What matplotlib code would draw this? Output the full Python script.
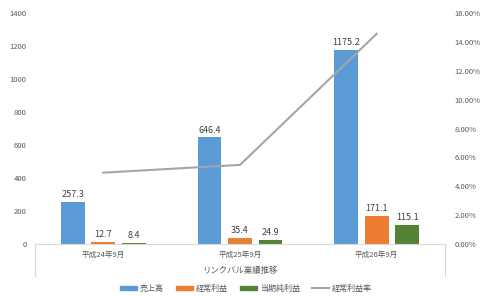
import matplotlib
matplotlib.use("Agg")
import matplotlib.pyplot as plt
import numpy as np
from matplotlib.lines import Line2D
from matplotlib.patches import Patch

plt.rcParams['font.family'] = ['Noto Sans CJK JP', 'DejaVu Sans']

categories = ["平成24年9月", "平成25年9月", "平成26年9月"]
sales = [257.3, 646.4, 1175.2]
ordinary = [12.7, 35.4, 171.1]
net = [8.4, 24.9, 115.1]
rate = [0.0494, 0.0548, 0.1456]
series_names = ["売上高", "経常利益", "当期純利益", "経常利益率"]
x_title = "リンクバル業績推移"

colors = ["#5B9BD5", "#ED7D31", "#548235", "#A5A5A5"]

fig = plt.figure(figsize=(4.8, 2.96), dpi=100)
ax = fig.add_axes([35/480, 1-244/296, 410/480, 231/296])
ax2 = ax.twinx()

x = np.arange(len(categories))
w = 0.175
step = 0.223
for i, (vals, c) in enumerate(zip([sales, ordinary, net], colors[:3])):
    bars = ax.bar(x + (i-1)*step, vals, w, color=c, zorder=2)
    ax.bar_label(bars, labels=[f"{v:.1f}" for v in vals], padding=2,
                 fontsize=6.5, color="#404040")

ax.set_xlim(-0.5, 2.5)
ax.set_ylim(0, 1400)
ax.set_yticks(range(0, 1401, 200))
ax2.plot(x, rate, color=colors[3], lw=1.5, zorder=3)
ax2.set_ylim(0, 0.16)
ax2.set_yticks(np.arange(0, 0.161, 0.02))
ax2.set_yticklabels([f"{v*100:.2f}%" for v in np.arange(0, 0.161, 0.02)])

for a in (ax, ax2):
    for s in a.spines.values():
        s.set_visible(False)
    a.tick_params(length=0, labelsize=5.5, labelcolor="#595959")
ax.spines['bottom'].set_visible(True)
ax.spines['bottom'].set_color("#D9D9D9")
ax.spines['bottom'].set_linewidth(0.8)
ax.tick_params(axis='y', pad=6)
ax2.tick_params(axis='y', pad=7)

ax.set_xticks(x)
ax.set_xticklabels(categories, fontsize=5.5)
ax.tick_params(axis='x', pad=5)

for xe in (0, 1):
    ax.add_line(Line2D([xe, xe], [0, -32/231], transform=ax.transAxes,
                       color="#D9D9D9", lw=0.8, clip_on=False))

ax.text(0.5, -26/231, x_title, transform=ax.transAxes, ha='center', va='center',
        fontsize=6, color="#595959")

handles = [Patch(color=c) for c in colors[:3]] + [Line2D([], [], color=colors[3], lw=1.5)]
fig.legend(handles, series_names, loc='center', bbox_to_anchor=(246/480, 1-288/296),
           ncol=4, frameon=False, fontsize=5.8, handlelength=2.1, handleheight=0.35,
           columnspacing=1.5, handletextpad=0.35, labelcolor="#595959")

fig.savefig("out.png", dpi=100)
